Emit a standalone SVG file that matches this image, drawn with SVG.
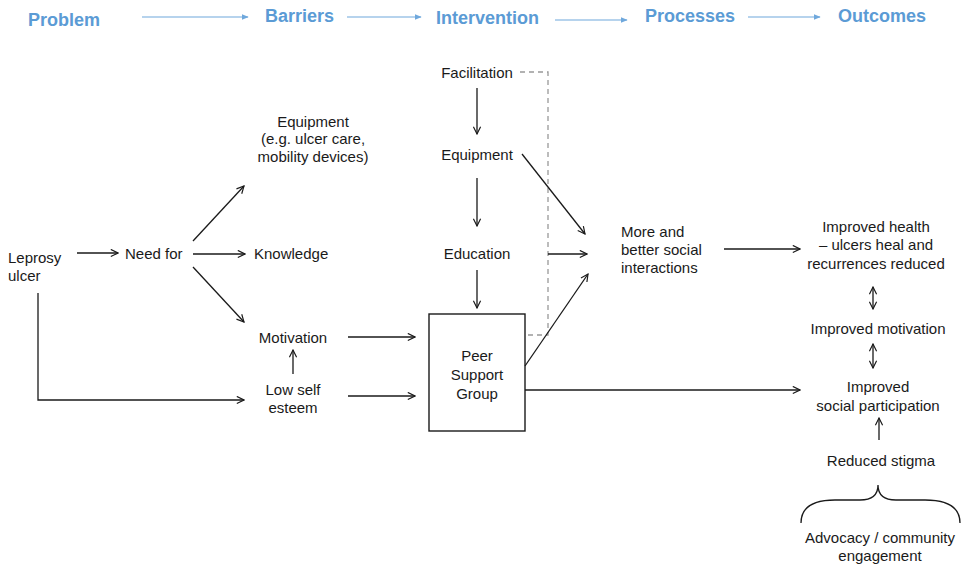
<svg xmlns="http://www.w3.org/2000/svg" width="966" height="566" viewBox="0 0 966 566">
<style>
text{font-family:"Liberation Sans",Arial,sans-serif;font-size:15px;fill:#1a1a1a}
.h{font-size:18px;font-weight:bold;fill:#5b9bd5}
.c{text-anchor:middle}
.l{stroke:#1a1a1a;stroke-width:1.3;fill:none}
.hl{stroke:#6fa8dc;stroke-width:1.2;fill:none}
.d{stroke:#999;stroke-width:1.3;fill:none;stroke-dasharray:5,4}
</style>
<defs>
<marker id="a" viewBox="0 0 10 10" refX="9" refY="5" markerWidth="9" markerHeight="9" markerUnits="userSpaceOnUse" orient="auto-start-reverse">
<path d="M1,1 L9,5 L1,9" fill="none" stroke="#1a1a1a" stroke-width="1.3"/>
</marker>
<marker id="b" viewBox="0 0 10 10" refX="9" refY="5" markerWidth="7" markerHeight="7" markerUnits="userSpaceOnUse" orient="auto">
<path d="M0,1 L10,5 L0,9 Z" fill="#6fa8dc"/>
</marker>
</defs>
<g id="header">
<text class="h" x="28" y="26">Problem</text>
<text class="h" x="265" y="22">Barriers</text>
<text class="h" x="436" y="24">Intervention</text>
<text class="h" x="645" y="22">Processes</text>
<text class="h" x="838" y="22">Outcomes</text>
<line class="hl" x1="142" y1="17" x2="248" y2="17" marker-end="url(#b)"/>
<line class="hl" x1="347" y1="17" x2="421" y2="17" marker-end="url(#b)"/>
<line class="hl" x1="555" y1="20" x2="627" y2="20" marker-end="url(#b)"/>
<line class="hl" x1="748" y1="17" x2="820" y2="17" marker-end="url(#b)"/>
</g>
<g id="connectors">
<line class="l" x1="77" y1="253" x2="118" y2="253" marker-end="url(#a)"/>
<line class="l" x1="193" y1="241" x2="244" y2="186" marker-end="url(#a)"/>
<line class="l" x1="193" y1="254" x2="245" y2="254" marker-end="url(#a)"/>
<line class="l" x1="193" y1="267" x2="244" y2="322" marker-end="url(#a)"/>
<polyline class="l" points="38,293 38,400 244,400" marker-end="url(#a)"/>
<line class="l" x1="293" y1="374" x2="293" y2="350" marker-end="url(#a)"/>
<line class="l" x1="348" y1="337" x2="415" y2="337" marker-end="url(#a)"/>
<line class="l" x1="348" y1="396" x2="415" y2="396" marker-end="url(#a)"/>
<line class="l" x1="477" y1="88" x2="477" y2="134" marker-end="url(#a)"/>
<line class="l" x1="477" y1="178" x2="477" y2="226" marker-end="url(#a)"/>
<line class="l" x1="477" y1="270" x2="477" y2="308" marker-end="url(#a)"/>
<polyline class="d" points="520,72 548,72 548,335 525,335"/>
<line class="l" x1="522" y1="154" x2="585" y2="234" marker-end="url(#a)"/>
<line class="l" x1="548" y1="254" x2="587" y2="254" marker-end="url(#a)"/>
<line class="l" x1="525" y1="366" x2="588" y2="274" marker-end="url(#a)"/>
<line class="l" x1="724" y1="249" x2="800" y2="249" marker-end="url(#a)"/>
<line class="l" x1="525" y1="390" x2="800" y2="390" marker-end="url(#a)"/>
<line class="l" x1="873" y1="287" x2="873" y2="309" marker-start="url(#a)" marker-end="url(#a)"/>
<line class="l" x1="873" y1="344" x2="873" y2="368" marker-start="url(#a)" marker-end="url(#a)"/>
<line class="l" x1="879" y1="440" x2="879" y2="418" marker-end="url(#a)"/>
<path class="l" d="M801,523 C801,506 815,500 835,500 L860,500 C872,500 878,495 878,485 C878,495 884,500 896,500 L925,500 C945,500 960,506 960,523"/>
</g>
<g id="leprosy"><text x="8" y="263">Leprosy</text><text x="8" y="281">ulcer</text></g>
<g id="needfor"><text x="125" y="259">Need for</text></g>
<g id="equipment-barrier"><text class="c" x="313" y="127">Equipment</text><text class="c" x="313" y="144">(e.g. ulcer care,</text><text class="c" x="313" y="162">mobility devices)</text></g>
<g id="knowledge"><text x="254" y="259">Knowledge</text></g>
<g id="motivation"><text class="c" x="293" y="343">Motivation</text></g>
<g id="lowselfesteem"><text class="c" x="293" y="395">Low self</text><text class="c" x="293" y="413">esteem</text></g>
<g id="facilitation"><text class="c" x="477" y="78">Facilitation</text></g>
<g id="equipment-int"><text class="c" x="477" y="160">Equipment</text></g>
<g id="education"><text class="c" x="477" y="259">Education</text></g>
<g id="peer"><rect x="429" y="314" width="96" height="117" fill="none" stroke="#1a1a1a" stroke-width="1.4"/><text class="c" x="477" y="361">Peer</text><text class="c" x="477" y="380">Support</text><text class="c" x="477" y="399">Group</text></g>
<g id="social"><text x="621" y="237">More and</text><text x="621" y="255">better social</text><text x="621" y="273">interactions</text></g>
<g id="health"><text class="c" x="876" y="232">Improved health</text><text class="c" x="876" y="250">– ulcers heal and</text><text class="c" x="876" y="269">recurrences reduced</text></g>
<g id="impmotivation"><text class="c" x="878" y="334">Improved motivation</text></g>
<g id="participation"><text class="c" x="878" y="392">Improved</text><text class="c" x="878" y="411">social participation</text></g>
<g id="stigma"><text class="c" x="881" y="466">Reduced stigma</text></g>
<g id="advocacy"><text class="c" x="880" y="543">Advocacy / community</text><text class="c" x="880" y="561">engagement</text></g>
</svg>
